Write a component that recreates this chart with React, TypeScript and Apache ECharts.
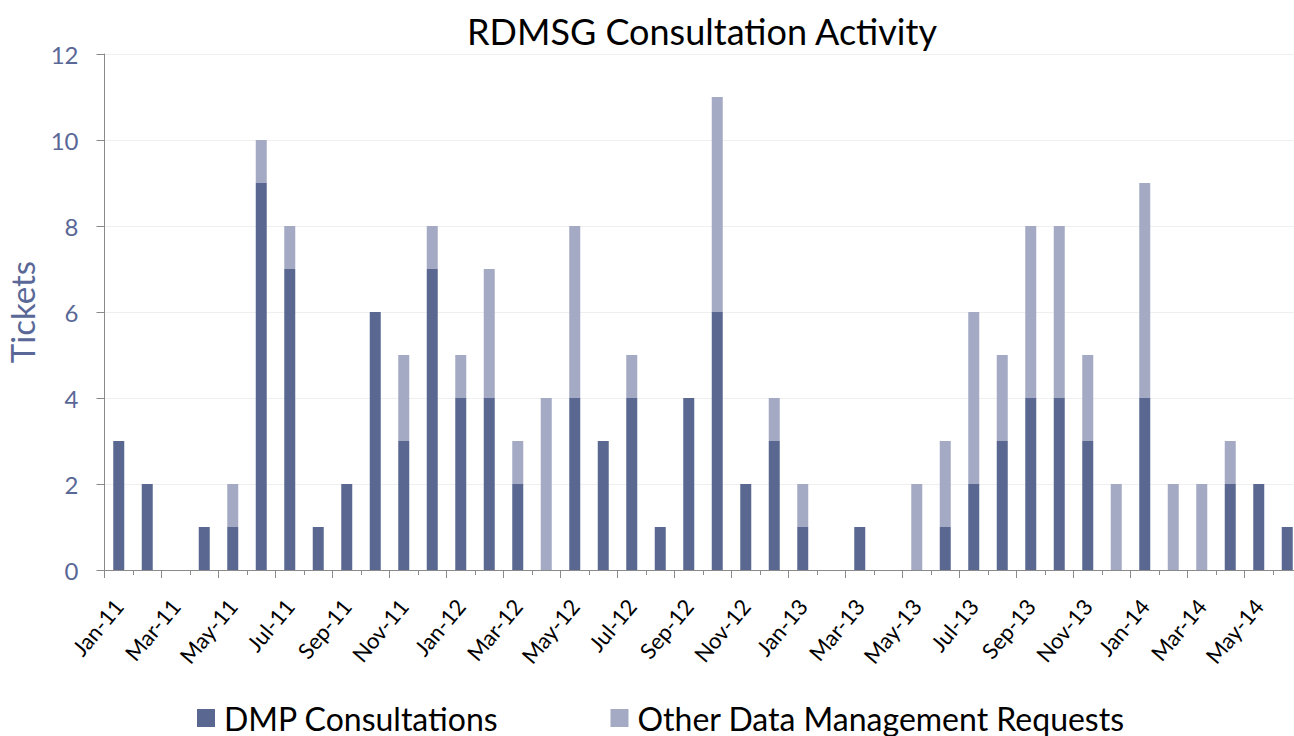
import React, { useEffect, useRef } from "react";
import * as echarts from "echarts";

const months = [
  "Jan-11", "Feb-11", "Mar-11", "Apr-11", "May-11", "Jun-11", "Jul-11", "Aug-11", "Sep-11", "Oct-11", "Nov-11", "Dec-11",
  "Jan-12", "Feb-12", "Mar-12", "Apr-12", "May-12", "Jun-12", "Jul-12", "Aug-12", "Sep-12", "Oct-12", "Nov-12", "Dec-12",
  "Jan-13", "Feb-13", "Mar-13", "Apr-13", "May-13", "Jun-13", "Jul-13", "Aug-13", "Sep-13", "Oct-13", "Nov-13", "Dec-13",
  "Jan-14", "Feb-14", "Mar-14", "Apr-14", "May-14", "Jun-14",
];

const dmpConsultations = [
  3, 2, 0, 1, 1, 9, 7, 1, 2, 6, 3, 7,
  4, 4, 2, 0, 4, 3, 4, 1, 4, 6, 2, 3,
  1, 0, 1, 0, 0, 1, 2, 3, 4, 4, 3, 0,
  4, 0, 0, 2, 2, 1,
];

const otherRequests = [
  0, 0, 0, 0, 1, 1, 1, 0, 0, 0, 2, 1,
  1, 3, 1, 4, 4, 0, 1, 0, 0, 5, 0, 1,
  1, 0, 0, 0, 2, 2, 4, 2, 4, 4, 2, 2,
  5, 2, 2, 1, 0, 0,
];

const seriesNames = ["DMP Consultations", "Other Data Management Requests"];
const titleText = "RDMSG Consultation Activity";
const yAxisName = "Tickets";

const FONT = "Lato";
const DARK = "#5a6791";
const LIGHT = "#a4aac4";

export default function App() {
  const ref = useRef<HTMLDivElement>(null);
  useEffect(() => {
    if (!ref.current) return;
    const chart = echarts.init(ref.current, null, { renderer: "svg" });
    chart.setOption({
      animation: false,
      backgroundColor: "#ffffff",
      title: {
        text: titleText,
        left: 697,
        top: 8,
        textAlign: "center",
        textStyle: { fontFamily: FONT, fontSize: 36, fontWeight: "normal", color: "#000000" },
      },
      legend: {
        data: seriesNames,
        left: 192,
        top: 697,
        itemWidth: 18,
        itemHeight: 18,
        itemGap: 112,
        icon: "rect",
        textStyle: { fontFamily: FONT, fontSize: 32, color: "#000000", padding: [0, 0, 0, 4] },
      },
      grid: { left: 104.5, top: 54, width: 1197, height: 516, outerBoundsMode: "none", containLabel: false },
      xAxis: [
        {
          type: "category",
          data: months,
          position: "bottom",
          axisLine: { show: true, lineStyle: { color: "#8a8a8a", width: 1 } },
          axisTick: { show: true, interval: 0, length: 5, lineStyle: { color: "#8a8a8a" } },
          axisLabel: {
            interval: 1,
            rotate: 50,
            margin: 32,
            fontFamily: FONT,
            fontSize: 22,
            color: "#000000",
          },
        },
        {
          type: "category",
          data: months,
          position: "bottom",
          axisLine: { show: false },
          axisTick: { show: true, interval: 1, length: 8, lineStyle: { color: "#8a8a8a" } },
          axisLabel: { show: false },
        },
      ],
      yAxis: {
        type: "value",
        min: 0,
        max: 12,
        interval: 2,
        name: yAxisName,
        nameLocation: "middle",
        nameGap: 66,
        nameTextStyle: { fontFamily: FONT, fontSize: 33, color: "#5a6897" },
        axisLine: { show: true, lineStyle: { color: "#8a8a8a", width: 1 } },
        axisTick: { show: true, length: 8, lineStyle: { color: "#8a8a8a" } },
        axisLabel: { margin: 26, fontFamily: FONT, fontSize: 24, color: "#5a6897" },
        splitLine: { show: true, lineStyle: { color: "#efefef", width: 1 } },
      },
      series: [
        {
          name: seriesNames[0],
          type: "bar",
          stack: "total",
          barWidth: 11,
          itemStyle: { color: DARK },
          data: dmpConsultations,
        },
        {
          name: seriesNames[1],
          type: "bar",
          stack: "total",
          barWidth: 11,
          itemStyle: { color: LIGHT },
          data: otherRequests,
        },
      ],
    });
    return () => chart.dispose();
  }, []);
  return (
    <div
      ref={ref}
      style={{ position: "absolute", left: 0, top: 0, width: 1294, height: 736 }}
    />
  );
}
